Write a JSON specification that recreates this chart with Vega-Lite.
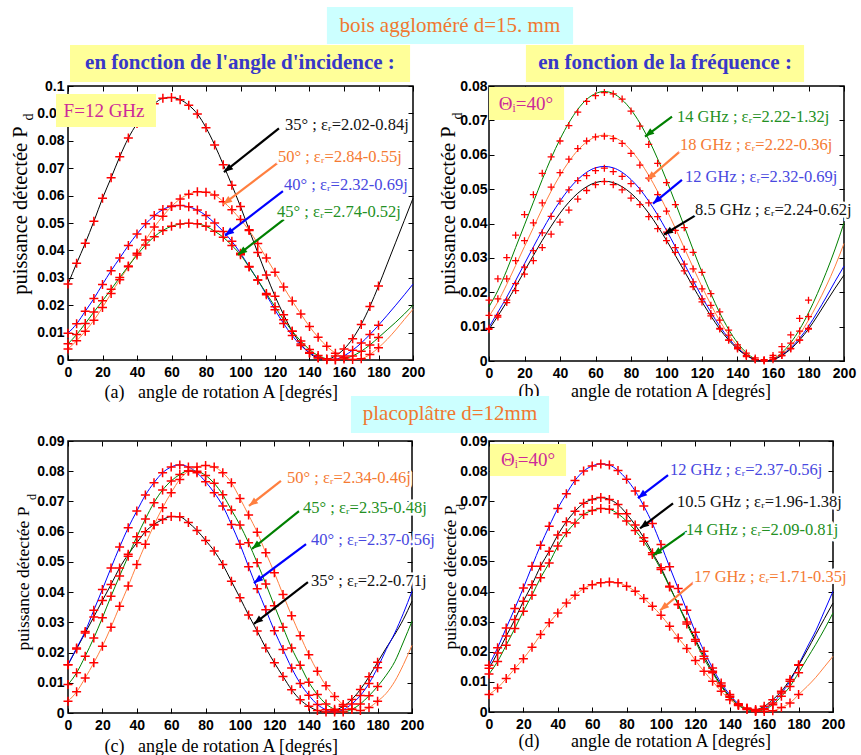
{
"$schema":"https://vega.github.io/schema/vega-lite/v6.json",
"padding":{"left":9,"top":6,"right":2,"bottom":2},
"background":"white",
"columns":2,
"spacing":{"row":80,"column":76},
"bounds":"flush",
"datasets":{
"a":[
{"s":"k","A":0,"L":0.0277},{"s":"k","A":5,"L":0.0353},{"s":"k","A":10,"L":0.0426},{"s":"k","A":15,"L":0.0506},{"s":"k","A":20,"L":0.059},{"s":"k","A":25,"L":0.0665},{"s":"k","A":30,"L":0.0742},{"s":"k","A":35,"L":0.081},{"s":"k","A":40,"L":0.0863},{"s":"k","A":45,"L":0.0905},{"s":"k","A":50,"L":0.0935},{"s":"k","A":55,"L":0.0955},{"s":"k","A":60,"L":0.0958},{"s":"k","A":65,"L":0.095},{"s":"k","A":70,"L":0.093},{"s":"k","A":75,"L":0.0898},{"s":"k","A":80,"L":0.0848},{"s":"k","A":85,"L":0.0785},{"s":"k","A":90,"L":0.0713},{"s":"k","A":95,"L":0.0638},{"s":"k","A":100,"L":0.056},{"s":"k","A":105,"L":0.0475},{"s":"k","A":110,"L":0.0392},{"s":"k","A":115,"L":0.031},{"s":"k","A":120,"L":0.0233},{"s":"k","A":125,"L":0.0165},{"s":"k","A":130,"L":0.0105},{"s":"k","A":135,"L":0.0058},{"s":"k","A":140,"L":0.0025},{"s":"k","A":145,"L":0.0007},{"s":"k","A":150,"L":0.0003},{"s":"k","A":155,"L":0.0015},{"s":"k","A":160,"L":0.004},{"s":"k","A":165,"L":0.0078},{"s":"k","A":170,"L":0.013},{"s":"k","A":175,"L":0.0195},{"s":"k","A":180,"L":0.027},{"s":"k","A":185,"L":0.035},{"s":"k","A":190,"L":0.043},{"s":"k","A":195,"L":0.051},{"s":"k","A":200,"L":0.059},
{"s":"o","A":0,"L":0.004},{"s":"o","A":5,"L":0.007},{"s":"o","A":10,"L":0.0105},{"s":"o","A":15,"L":0.0145},{"s":"o","A":20,"L":0.0192},{"s":"o","A":25,"L":0.0243},{"s":"o","A":30,"L":0.0293},{"s":"o","A":35,"L":0.034},{"s":"o","A":40,"L":0.039},{"s":"o","A":45,"L":0.0438},{"s":"o","A":50,"L":0.0485},{"s":"o","A":55,"L":0.0525},{"s":"o","A":60,"L":0.056},{"s":"o","A":65,"L":0.0588},{"s":"o","A":70,"L":0.0605},{"s":"o","A":75,"L":0.0614},{"s":"o","A":80,"L":0.0612},{"s":"o","A":85,"L":0.0602},{"s":"o","A":90,"L":0.0578},{"s":"o","A":95,"L":0.0548},{"s":"o","A":100,"L":0.0513},{"s":"o","A":105,"L":0.0473},{"s":"o","A":110,"L":0.0425},{"s":"o","A":115,"L":0.0372},{"s":"o","A":120,"L":0.032},{"s":"o","A":125,"L":0.0266},{"s":"o","A":130,"L":0.0215},{"s":"o","A":135,"L":0.0168},{"s":"o","A":140,"L":0.0122},{"s":"o","A":145,"L":0.0083},{"s":"o","A":150,"L":0.005},{"s":"o","A":155,"L":0.0025},{"s":"o","A":160,"L":0.0009},{"s":"o","A":165,"L":0.0002},{"s":"o","A":170,"L":0.0005},{"s":"o","A":175,"L":0.002},{"s":"o","A":180,"L":0.0045},{"s":"o","A":185,"L":0.0075},{"s":"o","A":190,"L":0.011},{"s":"o","A":195,"L":0.0148},{"s":"o","A":200,"L":0.0185},
{"s":"b","A":0,"L":0.0098},{"s":"b","A":5,"L":0.0132},{"s":"b","A":10,"L":0.0178},{"s":"b","A":15,"L":0.0224},{"s":"b","A":20,"L":0.0276},{"s":"b","A":25,"L":0.0326},{"s":"b","A":30,"L":0.0372},{"s":"b","A":35,"L":0.0418},{"s":"b","A":40,"L":0.046},{"s":"b","A":45,"L":0.0497},{"s":"b","A":50,"L":0.0527},{"s":"b","A":55,"L":0.0549},{"s":"b","A":60,"L":0.0561},{"s":"b","A":65,"L":0.0564},{"s":"b","A":70,"L":0.0559},{"s":"b","A":75,"L":0.0547},{"s":"b","A":80,"L":0.0527},{"s":"b","A":85,"L":0.05},{"s":"b","A":90,"L":0.0469},{"s":"b","A":95,"L":0.0433},{"s":"b","A":100,"L":0.039},{"s":"b","A":105,"L":0.0341},{"s":"b","A":110,"L":0.0292},{"s":"b","A":115,"L":0.0238},{"s":"b","A":120,"L":0.0183},{"s":"b","A":125,"L":0.0133},{"s":"b","A":130,"L":0.0089},{"s":"b","A":135,"L":0.0053},{"s":"b","A":140,"L":0.0027},{"s":"b","A":145,"L":0.0009},{"s":"b","A":150,"L":0.0001},{"s":"b","A":155,"L":0.0003},{"s":"b","A":160,"L":0.0015},{"s":"b","A":165,"L":0.0036},{"s":"b","A":170,"L":0.0062},{"s":"b","A":175,"L":0.0093},{"s":"b","A":180,"L":0.0127},{"s":"b","A":185,"L":0.0163},{"s":"b","A":190,"L":0.02},{"s":"b","A":195,"L":0.0238},{"s":"b","A":200,"L":0.0277},
{"s":"g","A":0,"L":0.0059},{"s":"g","A":5,"L":0.0093},{"s":"g","A":10,"L":0.0133},{"s":"g","A":15,"L":0.0175},{"s":"g","A":20,"L":0.0216},{"s":"g","A":25,"L":0.0258},{"s":"g","A":30,"L":0.0301},{"s":"g","A":35,"L":0.0343},{"s":"g","A":40,"L":0.0383},{"s":"g","A":45,"L":0.042},{"s":"g","A":50,"L":0.045},{"s":"g","A":55,"L":0.0473},{"s":"g","A":60,"L":0.0488},{"s":"g","A":65,"L":0.0496},{"s":"g","A":70,"L":0.0499},{"s":"g","A":75,"L":0.0497},{"s":"g","A":80,"L":0.0488},{"s":"g","A":85,"L":0.047},{"s":"g","A":90,"L":0.0448},{"s":"g","A":95,"L":0.0418},{"s":"g","A":100,"L":0.0384},{"s":"g","A":105,"L":0.0339},{"s":"g","A":110,"L":0.0292},{"s":"g","A":115,"L":0.0243},{"s":"g","A":120,"L":0.0194},{"s":"g","A":125,"L":0.0147},{"s":"g","A":130,"L":0.0105},{"s":"g","A":135,"L":0.0069},{"s":"g","A":140,"L":0.0038},{"s":"g","A":145,"L":0.0016},{"s":"g","A":150,"L":0.0004},{"s":"g","A":155,"L":0.0},{"s":"g","A":160,"L":0.0004},{"s":"g","A":165,"L":0.0015},{"s":"g","A":170,"L":0.0032},{"s":"g","A":175,"L":0.0055},{"s":"g","A":180,"L":0.0082},{"s":"g","A":185,"L":0.011},{"s":"g","A":190,"L":0.0138},{"s":"g","A":195,"L":0.0168},{"s":"g","A":200,"L":0.02}
],
"b":[
{"s":"g","A":0,"L":0.0158,"M":0.0177},{"s":"g","A":5,"L":0.0205,"M":0.0239},{"s":"g","A":10,"L":0.0264,"M":0.0301},{"s":"g","A":15,"L":0.033,"M":0.0366},{"s":"g","A":20,"L":0.0396,"M":0.0426},{"s":"g","A":25,"L":0.0462,"M":0.0484},{"s":"g","A":30,"L":0.0528,"M":0.0546},{"s":"g","A":35,"L":0.059,"M":0.0594},{"s":"g","A":40,"L":0.0645,"M":0.064},{"s":"g","A":45,"L":0.0693,"M":0.0685},{"s":"g","A":50,"L":0.0732,"M":0.0724},{"s":"g","A":55,"L":0.0761,"M":0.0755},{"s":"g","A":60,"L":0.0778,"M":0.0772},{"s":"g","A":65,"L":0.0784,"M":0.0781},{"s":"g","A":70,"L":0.0778,"M":0.0777},{"s":"g","A":75,"L":0.076,"M":0.0762},{"s":"g","A":80,"L":0.0731,"M":0.0727},{"s":"g","A":85,"L":0.0692,"M":0.0683},{"s":"g","A":90,"L":0.0644,"M":0.063},{"s":"g","A":95,"L":0.0588,"M":0.0575},{"s":"g","A":100,"L":0.0526,"M":0.0519},{"s":"g","A":105,"L":0.046,"M":0.0455},{"s":"g","A":110,"L":0.0392,"M":0.0388},{"s":"g","A":115,"L":0.0324,"M":0.0316},{"s":"g","A":120,"L":0.0258,"M":0.0258},{"s":"g","A":125,"L":0.0196,"M":0.0196},{"s":"g","A":130,"L":0.014,"M":0.0143},{"s":"g","A":135,"L":0.0092,"M":0.009},{"s":"g","A":140,"L":0.0053,"M":0.0047},{"s":"g","A":145,"L":0.0024,"M":0.0023},{"s":"g","A":150,"L":0.0006,"M":0.0009},{"s":"g","A":155,"L":0.0,"M":0.0004},{"s":"g","A":160,"L":0.0006,"M":0.0016},{"s":"g","A":165,"L":0.0024,"M":0.0042},{"s":"g","A":170,"L":0.0053,"M":0.0076},{"s":"g","A":175,"L":0.0092,"M":0.0124},{"s":"g","A":180,"L":0.014,"M":0.0177},{"s":"g","A":185,"L":0.0196},{"s":"g","A":190,"L":0.0258},{"s":"g","A":195,"L":0.0326},{"s":"g","A":200,"L":0.0402},
{"s":"o","A":0,"L":0.013,"M":0.0133},{"s":"o","A":5,"L":0.0172,"M":0.0181},{"s":"o","A":10,"L":0.0223,"M":0.0239},{"s":"o","A":15,"L":0.0278,"M":0.0292},{"s":"o","A":20,"L":0.0333,"M":0.035},{"s":"o","A":25,"L":0.0388,"M":0.0402},{"s":"o","A":30,"L":0.0443,"M":0.046},{"s":"o","A":35,"L":0.0494,"M":0.0506},{"s":"o","A":40,"L":0.054,"M":0.0548},{"s":"o","A":45,"L":0.058,"M":0.0587},{"s":"o","A":50,"L":0.0613,"M":0.0618},{"s":"o","A":55,"L":0.0637,"M":0.064},{"s":"o","A":60,"L":0.0652,"M":0.0652},{"s":"o","A":65,"L":0.0657,"M":0.0654},{"s":"o","A":70,"L":0.0652,"M":0.0647},{"s":"o","A":75,"L":0.0637,"M":0.0633},{"s":"o","A":80,"L":0.0613,"M":0.0604},{"s":"o","A":85,"L":0.058,"M":0.057},{"s":"o","A":90,"L":0.054,"M":0.0532},{"s":"o","A":95,"L":0.0493,"M":0.0484},{"s":"o","A":100,"L":0.0441,"M":0.0436},{"s":"o","A":105,"L":0.0386,"M":0.038},{"s":"o","A":110,"L":0.0329,"M":0.0325},{"s":"o","A":115,"L":0.0272,"M":0.0268},{"s":"o","A":120,"L":0.0216,"M":0.021},{"s":"o","A":125,"L":0.0164,"M":0.0162},{"s":"o","A":130,"L":0.0117,"M":0.0119},{"s":"o","A":135,"L":0.0077,"M":0.0075},{"s":"o","A":140,"L":0.0044,"M":0.004},{"s":"o","A":145,"L":0.002,"M":0.0015},{"s":"o","A":150,"L":0.0005,"M":0.0005},{"s":"o","A":155,"L":0.0,"M":0.0002},{"s":"o","A":160,"L":0.0005,"M":0.001},{"s":"o","A":165,"L":0.002,"M":0.0026},{"s":"o","A":170,"L":0.0044,"M":0.0052},{"s":"o","A":175,"L":0.0077,"M":0.0087},{"s":"o","A":180,"L":0.0119,"M":0.0129},{"s":"o","A":185,"L":0.0166},{"s":"o","A":190,"L":0.0218},{"s":"o","A":195,"L":0.0276},{"s":"o","A":200,"L":0.0342},
{"s":"b","A":0,"L":0.0098,"M":0.0095},{"s":"b","A":5,"L":0.0142,"M":0.0133},{"s":"b","A":10,"L":0.0186,"M":0.0177},{"s":"b","A":15,"L":0.0234,"M":0.0225},{"s":"b","A":20,"L":0.0283,"M":0.0273},{"s":"b","A":25,"L":0.0332,"M":0.0321},{"s":"b","A":30,"L":0.038,"M":0.0373},{"s":"b","A":35,"L":0.0425,"M":0.0421},{"s":"b","A":40,"L":0.0465,"M":0.0465},{"s":"b","A":45,"L":0.05,"M":0.0498},{"s":"b","A":50,"L":0.0528,"M":0.0525},{"s":"b","A":55,"L":0.0549,"M":0.0539},{"s":"b","A":60,"L":0.0562,"M":0.0554},{"s":"b","A":65,"L":0.0566,"M":0.0561},{"s":"b","A":70,"L":0.0562,"M":0.0551},{"s":"b","A":75,"L":0.0549,"M":0.0537},{"s":"b","A":80,"L":0.0528,"M":0.0516},{"s":"b","A":85,"L":0.05,"M":0.0495},{"s":"b","A":90,"L":0.0465,"M":0.046},{"s":"b","A":95,"L":0.0425,"M":0.042},{"s":"b","A":100,"L":0.038,"M":0.0375},{"s":"b","A":105,"L":0.0332,"M":0.033},{"s":"b","A":110,"L":0.0283,"M":0.0282},{"s":"b","A":115,"L":0.0234,"M":0.023},{"s":"b","A":120,"L":0.0186,"M":0.0181},{"s":"b","A":125,"L":0.0142,"M":0.0138},{"s":"b","A":130,"L":0.0101,"M":0.0095},{"s":"b","A":135,"L":0.0066,"M":0.0061},{"s":"b","A":140,"L":0.0038,"M":0.0037},{"s":"b","A":145,"L":0.0017,"M":0.0013},{"s":"b","A":150,"L":0.0004,"M":0.0004},{"s":"b","A":155,"L":0.0,"M":0.0002},{"s":"b","A":160,"L":0.0004,"M":0.0009},{"s":"b","A":165,"L":0.0017,"M":0.0016},{"s":"b","A":170,"L":0.0038,"M":0.0037},{"s":"b","A":175,"L":0.0066,"M":0.0061},{"s":"b","A":180,"L":0.0101,"M":0.0095},{"s":"b","A":185,"L":0.0142},{"s":"b","A":190,"L":0.0186},{"s":"b","A":195,"L":0.0232},{"s":"b","A":200,"L":0.0276},
{"s":"k","A":0,"L":0.0092,"M":0.0092},{"s":"k","A":5,"L":0.0131,"M":0.0128},{"s":"k","A":10,"L":0.0172,"M":0.017},{"s":"k","A":15,"L":0.0216,"M":0.0205},{"s":"k","A":20,"L":0.0262,"M":0.0253},{"s":"k","A":25,"L":0.0307,"M":0.0292},{"s":"k","A":30,"L":0.0351,"M":0.033},{"s":"k","A":35,"L":0.0392,"M":0.0369},{"s":"k","A":40,"L":0.043,"M":0.0404},{"s":"k","A":45,"L":0.0462,"M":0.0439},{"s":"k","A":50,"L":0.0488,"M":0.0471},{"s":"k","A":55,"L":0.0507,"M":0.0496},{"s":"k","A":60,"L":0.0519,"M":0.0513},{"s":"k","A":65,"L":0.0523,"M":0.0522},{"s":"k","A":70,"L":0.0519,"M":0.0513},{"s":"k","A":75,"L":0.0507,"M":0.0498},{"s":"k","A":80,"L":0.0488,"M":0.0474},{"s":"k","A":85,"L":0.0462,"M":0.0455},{"s":"k","A":90,"L":0.043,"M":0.042},{"s":"k","A":95,"L":0.0392,"M":0.0385},{"s":"k","A":100,"L":0.0351,"M":0.035},{"s":"k","A":105,"L":0.0307,"M":0.0316},{"s":"k","A":110,"L":0.0262,"M":0.0262},{"s":"k","A":115,"L":0.0216,"M":0.0216},{"s":"k","A":120,"L":0.0172,"M":0.0172},{"s":"k","A":125,"L":0.0131,"M":0.0131},{"s":"k","A":130,"L":0.0093,"M":0.0093},{"s":"k","A":135,"L":0.0061,"M":0.0061},{"s":"k","A":140,"L":0.0035,"M":0.0035},{"s":"k","A":145,"L":0.0016,"M":0.0016},{"s":"k","A":150,"L":0.0004,"M":0.0004},{"s":"k","A":155,"L":0.0,"M":0.0},{"s":"k","A":160,"L":0.0004,"M":0.0004},{"s":"k","A":165,"L":0.0016,"M":0.0016},{"s":"k","A":170,"L":0.0035,"M":0.0035},{"s":"k","A":175,"L":0.0061,"M":0.0061},{"s":"k","A":180,"L":0.0093,"M":0.0093},{"s":"k","A":185,"L":0.0131},{"s":"k","A":190,"L":0.0172},{"s":"k","A":195,"L":0.0212},{"s":"k","A":200,"L":0.025}
],
"c":[
{"s":"k","A":0,"L":0.016},{"s":"k","A":5,"L":0.0212},{"s":"k","A":10,"L":0.0265},{"s":"k","A":15,"L":0.0318},{"s":"k","A":20,"L":0.0372},{"s":"k","A":25,"L":0.0425},{"s":"k","A":30,"L":0.048},{"s":"k","A":35,"L":0.0525},{"s":"k","A":40,"L":0.0563},{"s":"k","A":45,"L":0.06},{"s":"k","A":50,"L":0.0624},{"s":"k","A":55,"L":0.064},{"s":"k","A":60,"L":0.065},{"s":"k","A":65,"L":0.0649},{"s":"k","A":70,"L":0.063},{"s":"k","A":75,"L":0.0604},{"s":"k","A":80,"L":0.0571},{"s":"k","A":85,"L":0.0536},{"s":"k","A":90,"L":0.0491},{"s":"k","A":95,"L":0.0436},{"s":"k","A":100,"L":0.0381},{"s":"k","A":105,"L":0.0324},{"s":"k","A":110,"L":0.0271},{"s":"k","A":115,"L":0.0215},{"s":"k","A":120,"L":0.0166},{"s":"k","A":125,"L":0.0121},{"s":"k","A":130,"L":0.0077},{"s":"k","A":135,"L":0.0044},{"s":"k","A":140,"L":0.0022},{"s":"k","A":145,"L":0.0008},{"s":"k","A":150,"L":0.0003},{"s":"k","A":155,"L":0.0008},{"s":"k","A":160,"L":0.0022},{"s":"k","A":165,"L":0.0045},{"s":"k","A":170,"L":0.0078},{"s":"k","A":175,"L":0.012},{"s":"k","A":180,"L":0.0168},{"s":"k","A":185,"L":0.0215},{"s":"k","A":190,"L":0.026},{"s":"k","A":195,"L":0.031},{"s":"k","A":200,"L":0.037},
{"s":"b","A":0,"L":0.016},{"s":"b","A":5,"L":0.0215},{"s":"b","A":10,"L":0.027},{"s":"b","A":15,"L":0.034},{"s":"b","A":20,"L":0.0409},{"s":"b","A":25,"L":0.048},{"s":"b","A":30,"L":0.0549},{"s":"b","A":35,"L":0.0613},{"s":"b","A":40,"L":0.0668},{"s":"b","A":45,"L":0.0721},{"s":"b","A":50,"L":0.0762},{"s":"b","A":55,"L":0.0795},{"s":"b","A":60,"L":0.0814},{"s":"b","A":65,"L":0.0821},{"s":"b","A":70,"L":0.0814},{"s":"b","A":75,"L":0.0795},{"s":"b","A":80,"L":0.0765},{"s":"b","A":85,"L":0.0729},{"s":"b","A":90,"L":0.0685},{"s":"b","A":95,"L":0.0624},{"s":"b","A":100,"L":0.0558},{"s":"b","A":105,"L":0.0484},{"s":"b","A":110,"L":0.0411},{"s":"b","A":115,"L":0.0342},{"s":"b","A":120,"L":0.0272},{"s":"b","A":125,"L":0.021},{"s":"b","A":130,"L":0.0149},{"s":"b","A":135,"L":0.0098},{"s":"b","A":140,"L":0.0059},{"s":"b","A":145,"L":0.0028},{"s":"b","A":150,"L":0.0011},{"s":"b","A":155,"L":0.0003},{"s":"b","A":160,"L":0.0011},{"s":"b","A":165,"L":0.003},{"s":"b","A":170,"L":0.0058},{"s":"b","A":175,"L":0.0098},{"s":"b","A":180,"L":0.015},{"s":"b","A":185,"L":0.021},{"s":"b","A":190,"L":0.0265},{"s":"b","A":195,"L":0.033},{"s":"b","A":200,"L":0.0403},
{"s":"g","A":0,"L":0.0094},{"s":"g","A":5,"L":0.0133},{"s":"g","A":10,"L":0.0188},{"s":"g","A":15,"L":0.0248},{"s":"g","A":20,"L":0.0315},{"s":"g","A":25,"L":0.0386},{"s":"g","A":30,"L":0.0453},{"s":"g","A":35,"L":0.0519},{"s":"g","A":40,"L":0.0583},{"s":"g","A":45,"L":0.0642},{"s":"g","A":50,"L":0.0696},{"s":"g","A":55,"L":0.0738},{"s":"g","A":60,"L":0.0768},{"s":"g","A":65,"L":0.0789},{"s":"g","A":70,"L":0.0801},{"s":"g","A":75,"L":0.08},{"s":"g","A":80,"L":0.0786},{"s":"g","A":85,"L":0.076},{"s":"g","A":90,"L":0.0722},{"s":"g","A":95,"L":0.0672},{"s":"g","A":100,"L":0.0622},{"s":"g","A":105,"L":0.0563},{"s":"g","A":110,"L":0.0497},{"s":"g","A":115,"L":0.0427},{"s":"g","A":120,"L":0.0355},{"s":"g","A":125,"L":0.0284},{"s":"g","A":130,"L":0.0215},{"s":"g","A":135,"L":0.0158},{"s":"g","A":140,"L":0.0102},{"s":"g","A":145,"L":0.0061},{"s":"g","A":150,"L":0.003},{"s":"g","A":155,"L":0.0012},{"s":"g","A":160,"L":0.0003},{"s":"g","A":165,"L":0.0012},{"s":"g","A":170,"L":0.003},{"s":"g","A":175,"L":0.0057},{"s":"g","A":180,"L":0.0088},{"s":"g","A":185,"L":0.0125},{"s":"g","A":190,"L":0.017},{"s":"g","A":195,"L":0.0235},{"s":"g","A":200,"L":0.0304},
{"s":"o","A":0,"L":0.0039},{"s":"o","A":5,"L":0.007},{"s":"o","A":10,"L":0.0116},{"s":"o","A":15,"L":0.0166},{"s":"o","A":20,"L":0.0221},{"s":"o","A":25,"L":0.0284},{"s":"o","A":30,"L":0.0353},{"s":"o","A":35,"L":0.042},{"s":"o","A":40,"L":0.0491},{"s":"o","A":45,"L":0.0558},{"s":"o","A":50,"L":0.0622},{"s":"o","A":55,"L":0.0679},{"s":"o","A":60,"L":0.0729},{"s":"o","A":65,"L":0.0773},{"s":"o","A":70,"L":0.0801},{"s":"o","A":75,"L":0.0814},{"s":"o","A":80,"L":0.0819},{"s":"o","A":85,"L":0.0814},{"s":"o","A":90,"L":0.0795},{"s":"o","A":95,"L":0.0762},{"s":"o","A":100,"L":0.071},{"s":"o","A":105,"L":0.0655},{"s":"o","A":110,"L":0.0598},{"s":"o","A":115,"L":0.053},{"s":"o","A":120,"L":0.0464},{"s":"o","A":125,"L":0.0392},{"s":"o","A":130,"L":0.0322},{"s":"o","A":135,"L":0.0256},{"s":"o","A":140,"L":0.0193},{"s":"o","A":145,"L":0.0138},{"s":"o","A":150,"L":0.009},{"s":"o","A":155,"L":0.0055},{"s":"o","A":160,"L":0.0028},{"s":"o","A":165,"L":0.0012},{"s":"o","A":170,"L":0.0008},{"s":"o","A":175,"L":0.0018},{"s":"o","A":180,"L":0.0039},{"s":"o","A":185,"L":0.0065},{"s":"o","A":190,"L":0.0105},{"s":"o","A":195,"L":0.016},{"s":"o","A":200,"L":0.0224}
],
"d":[
{"s":"b","A":0,"L":0.0155},{"s":"b","A":5,"L":0.0213},{"s":"b","A":10,"L":0.0279},{"s":"b","A":15,"L":0.0344},{"s":"b","A":20,"L":0.0412},{"s":"b","A":25,"L":0.0484},{"s":"b","A":30,"L":0.0554},{"s":"b","A":35,"L":0.0617},{"s":"b","A":40,"L":0.0676},{"s":"b","A":45,"L":0.0725},{"s":"b","A":50,"L":0.0769},{"s":"b","A":55,"L":0.08},{"s":"b","A":60,"L":0.0817},{"s":"b","A":65,"L":0.0824},{"s":"b","A":70,"L":0.082},{"s":"b","A":75,"L":0.0802},{"s":"b","A":80,"L":0.0773},{"s":"b","A":85,"L":0.0734},{"s":"b","A":90,"L":0.0684},{"s":"b","A":95,"L":0.0626},{"s":"b","A":100,"L":0.0556},{"s":"b","A":105,"L":0.0482},{"s":"b","A":110,"L":0.041},{"s":"b","A":115,"L":0.0338},{"s":"b","A":120,"L":0.0265},{"s":"b","A":125,"L":0.0202},{"s":"b","A":130,"L":0.0146},{"s":"b","A":135,"L":0.0096},{"s":"b","A":140,"L":0.0058},{"s":"b","A":145,"L":0.0027},{"s":"b","A":150,"L":0.0011},{"s":"b","A":155,"L":0.0004},{"s":"b","A":160,"L":0.0011},{"s":"b","A":165,"L":0.003},{"s":"b","A":170,"L":0.0063},{"s":"b","A":175,"L":0.0102},{"s":"b","A":180,"L":0.0157},{"s":"b","A":185,"L":0.0215},{"s":"b","A":190,"L":0.027},{"s":"b","A":195,"L":0.0335},{"s":"b","A":200,"L":0.0401},
{"s":"k","A":0,"L":0.0145},{"s":"k","A":5,"L":0.0196},{"s":"k","A":10,"L":0.0252},{"s":"k","A":15,"L":0.0307},{"s":"k","A":20,"L":0.0368},{"s":"k","A":25,"L":0.0423},{"s":"k","A":30,"L":0.0484},{"s":"k","A":35,"L":0.0534},{"s":"k","A":40,"L":0.0588},{"s":"k","A":45,"L":0.0632},{"s":"k","A":50,"L":0.0667},{"s":"k","A":55,"L":0.0693},{"s":"k","A":60,"L":0.0706},{"s":"k","A":65,"L":0.0712},{"s":"k","A":70,"L":0.0706},{"s":"k","A":75,"L":0.0689},{"s":"k","A":80,"L":0.0658},{"s":"k","A":85,"L":0.0621},{"s":"k","A":90,"L":0.0579},{"s":"k","A":95,"L":0.0529},{"s":"k","A":100,"L":0.0479},{"s":"k","A":105,"L":0.0418},{"s":"k","A":110,"L":0.0357},{"s":"k","A":115,"L":0.0299},{"s":"k","A":120,"L":0.0241},{"s":"k","A":125,"L":0.0185},{"s":"k","A":130,"L":0.0135},{"s":"k","A":135,"L":0.0089},{"s":"k","A":140,"L":0.0052},{"s":"k","A":145,"L":0.0024},{"s":"k","A":150,"L":0.0011},{"s":"k","A":155,"L":0.0008},{"s":"k","A":160,"L":0.0019},{"s":"k","A":165,"L":0.0041},{"s":"k","A":170,"L":0.0069},{"s":"k","A":175,"L":0.0108},{"s":"k","A":180,"L":0.0155},{"s":"k","A":185,"L":0.0205},{"s":"k","A":190,"L":0.0258},{"s":"k","A":195,"L":0.031},{"s":"k","A":200,"L":0.0362},
{"s":"g","A":0,"L":0.0126},{"s":"g","A":5,"L":0.0168},{"s":"g","A":10,"L":0.0222},{"s":"g","A":15,"L":0.0277},{"s":"g","A":20,"L":0.0335},{"s":"g","A":25,"L":0.0388},{"s":"g","A":30,"L":0.0446},{"s":"g","A":35,"L":0.0495},{"s":"g","A":40,"L":0.0551},{"s":"g","A":45,"L":0.0595},{"s":"g","A":50,"L":0.0628},{"s":"g","A":55,"L":0.0656},{"s":"g","A":60,"L":0.0669},{"s":"g","A":65,"L":0.0676},{"s":"g","A":70,"L":0.0673},{"s":"g","A":75,"L":0.0658},{"s":"g","A":80,"L":0.0634},{"s":"g","A":85,"L":0.0603},{"s":"g","A":90,"L":0.0567},{"s":"g","A":95,"L":0.0523},{"s":"g","A":100,"L":0.0473},{"s":"g","A":105,"L":0.0415},{"s":"g","A":110,"L":0.0357},{"s":"g","A":115,"L":0.0292},{"s":"g","A":120,"L":0.0235},{"s":"g","A":125,"L":0.0177},{"s":"g","A":130,"L":0.013},{"s":"g","A":135,"L":0.0085},{"s":"g","A":140,"L":0.0049},{"s":"g","A":145,"L":0.0022},{"s":"g","A":150,"L":0.0008},{"s":"g","A":155,"L":0.0002},{"s":"g","A":160,"L":0.0008},{"s":"g","A":165,"L":0.0024},{"s":"g","A":170,"L":0.0052},{"s":"g","A":175,"L":0.0085},{"s":"g","A":180,"L":0.013},{"s":"g","A":185,"L":0.0178},{"s":"g","A":190,"L":0.0225},{"s":"g","A":195,"L":0.0275},{"s":"g","A":200,"L":0.0329},
{"s":"o","A":0,"L":0.0058},{"s":"o","A":5,"L":0.008},{"s":"o","A":10,"L":0.0111},{"s":"o","A":15,"L":0.0144},{"s":"o","A":20,"L":0.0177},{"s":"o","A":25,"L":0.0215},{"s":"o","A":30,"L":0.0257},{"s":"o","A":35,"L":0.0296},{"s":"o","A":40,"L":0.0329},{"s":"o","A":45,"L":0.0362},{"s":"o","A":50,"L":0.0388},{"s":"o","A":55,"L":0.041},{"s":"o","A":60,"L":0.0423},{"s":"o","A":65,"L":0.0429},{"s":"o","A":70,"L":0.0432},{"s":"o","A":75,"L":0.0429},{"s":"o","A":80,"L":0.0418},{"s":"o","A":85,"L":0.0401},{"s":"o","A":90,"L":0.0377},{"s":"o","A":95,"L":0.0351},{"s":"o","A":100,"L":0.0321},{"s":"o","A":105,"L":0.0285},{"s":"o","A":110,"L":0.0246},{"s":"o","A":115,"L":0.0211},{"s":"o","A":120,"L":0.0171},{"s":"o","A":125,"L":0.0135},{"s":"o","A":130,"L":0.0102},{"s":"o","A":135,"L":0.0069},{"s":"o","A":140,"L":0.0041},{"s":"o","A":145,"L":0.0024},{"s":"o","A":150,"L":0.0013},{"s":"o","A":155,"L":0.0004},{"s":"o","A":160,"L":0.0002},{"s":"o","A":165,"L":0.0004},{"s":"o","A":170,"L":0.0015},{"s":"o","A":175,"L":0.003},{"s":"o","A":180,"L":0.0058},{"s":"o","A":185,"L":0.0085},{"s":"o","A":190,"L":0.0115},{"s":"o","A":195,"L":0.015},{"s":"o","A":200,"L":0.0185}
],
"an_a":[
{"s":"k","t":"35° ; εᵣ=2.02-0.84j","tx":125.8,"ty":0.0856,"x1":122.3,"y1":0.0845,"x2":90.4,"y2":0.0686,"ang":232},
{"s":"o","t":"50° ; εᵣ=2.84-0.55j","tx":121.7,"ty":0.0742,"x1":122.3,"y1":0.0723,"x2":89.9,"y2":0.0568,"ang":233},
{"s":"b","t":"40° ; εᵣ=2.32-0.69j","tx":125.2,"ty":0.0638,"x1":124.6,"y1":0.0616,"x2":91.0,"y2":0.0454,"ang":233},
{"s":"g","t":"45° ; εᵣ=2.74-0.52j","tx":121.2,"ty":0.0539,"x1":125.2,"y1":0.0513,"x2":98.6,"y2":0.0384,"ang":233}
],
"an_b":[
{"s":"g","t":"14 GHz ; εᵣ=2.22-1.32j","tx":105.9,"ty":0.0711,"x1":103.1,"y1":0.0711,"x2":87.9,"y2":0.0653,"ang":233},
{"s":"o","t":"18 GHz ; εᵣ=2.22-0.36j","tx":107.6,"ty":0.0627,"x1":107.6,"y1":0.061,"x2":89.0,"y2":0.0527,"ang":229},
{"s":"b","t":"12 GHz ; εᵣ=2.32-0.69j","tx":110.4,"ty":0.0535,"x1":108.7,"y1":0.0527,"x2":92.4,"y2":0.0458,"ang":230},
{"s":"k","t":"8.5 GHz ; εᵣ=2.24-0.62j","tx":116.1,"ty":0.044,"x1":116.1,"y1":0.0423,"x2":98.6,"y2":0.0368,"ang":238}
],
"an_c":[
{"s":"o","t":"50° ; εᵣ=2.34-0.46j","tx":127.3,"ty":0.0778,"x1":123.8,"y1":0.0768,"x2":105.2,"y2":0.0685,"ang":232},
{"s":"g","t":"45° ; εᵣ=2.35-0.48j","tx":136.6,"ty":0.0678,"x1":134.3,"y1":0.0668,"x2":107.0,"y2":0.0543,"ang":231},
{"s":"b","t":"40° ; εᵣ=2.37-0.56j","tx":141.3,"ty":0.0572,"x1":138.4,"y1":0.0559,"x2":108.1,"y2":0.043,"ang":233},
{"s":"k","t":"35° ; εᵣ=2.2-0.71j","tx":141.3,"ty":0.0437,"x1":139.5,"y1":0.0433,"x2":108.1,"y2":0.0295,"ang":232}
],
"an_d":[
{"s":"b","t":"12 GHz ; εᵣ=2.37-0.56j","tx":105.2,"ty":0.0803,"x1":104.1,"y1":0.0787,"x2":86.6,"y2":0.071,"ang":232},
{"s":"k","t":"10.5 GHz ; εᵣ=1.96-1.38j","tx":109.3,"ty":0.0697,"x1":107.0,"y1":0.0693,"x2":87.8,"y2":0.061,"ang":233},
{"s":"g","t":"14 GHz ; εᵣ=2.09-0.81j","tx":114.5,"ty":0.0603,"x1":115.1,"y1":0.06,"x2":95.3,"y2":0.052,"ang":235},
{"s":"o","t":"17 GHz ; εᵣ=1.71-0.35j","tx":119.2,"ty":0.0447,"x1":121.5,"y1":0.0443,"x2":99.4,"y2":0.0337,"ang":230}
]
},
"concat":[
{
"width":345,"height":274,
"resolve":{"axis":{"x":"independent","y":"independent"}},
"layer":[
{"data":{"name":"a"},"mark":{"type":"line","strokeWidth":1,"interpolate":"monotone"},
"encoding":{
"x":{"field":"A","type":"quantitative","scale":{"domain":[0,200],"nice":false},"axis":{"orient":"bottom","values":[0,20,40,60,80,100,120,140,160,180,200],"labelPadding":10,"title":"(a)\u00a0\u00a0\u00a0angle de rotation A [degrés]","titleFontSize":18,"titleAlign":"left","titleBaseline":"middle","titleX":36,"titleY":32}},
"y":{"field":"L","type":"quantitative","scale":{"domain":[0,0.1],"nice":false},"axis":{"orient":"left","values":[0,0.01,0.02,0.03,0.04,0.05,0.06,0.07,0.08,0.09,0.1],"format":".2~f","labelPadding":9,"title":"puissance détectée P","titleFontSize":20.5,"titleAngle":270,"titleBaseline":"alphabetic","titleAlign":"center","titleX":-42,"titleY":124}},
"stroke":{"field":"s","type":"nominal","scale":{"domain":["k","b","g","o"],"range":["#000000","#0000ff","#008000","#ff7f3f"]},"legend":null}}},
{"data":{"name":"a"},"transform":[{"filter":"datum.A <= 180"}],"mark":{"type":"point","shape":"M-1,0L1,0M0,-1L0,1","filled":false,"stroke":"#ff0000","strokeWidth":1.5,"size":81,"opacity":1},
"encoding":{
"x":{"field":"A","type":"quantitative","scale":{"domain":[0,200],"nice":false},"axis":{"orient":"top","values":[0,20,40,60,80,100,120,140,160,180,200],"labels":false,"title":null}},
"y":{"field":"L","type":"quantitative","scale":{"domain":[0,0.1],"nice":false},"axis":{"orient":"right","values":[0,0.01,0.02,0.03,0.04,0.05,0.06,0.07,0.08,0.09,0.1],"labels":false,"title":null}}}},
{"data":{"name":"an_a"},"mark":{"type":"rule","strokeWidth":2.2},
"encoding":{"x":{"field":"x1","type":"quantitative","scale":{"domain":[0,200],"nice":false},"axis":null},"y":{"field":"y1","type":"quantitative","scale":{"domain":[0,0.1],"nice":false},"axis":null},"x2":{"field":"x2"},"y2":{"field":"y2"},"stroke":{"field":"s","type":"nominal","legend":null}}},
{"data":{"name":"an_a"},"mark":{"type":"point","shape":"M0,0L1,2.6L-1,2.6Z","filled":true,"size":49,"opacity":1,"strokeWidth":0},
"encoding":{"x":{"field":"x2","type":"quantitative","scale":{"domain":[0,200],"nice":false},"axis":null},"y":{"field":"y2","type":"quantitative","scale":{"domain":[0,0.1],"nice":false},"axis":null},"angle":{"field":"ang","type":"quantitative","scale":null},"fill":{"field":"s","type":"nominal","scale":{"domain":["k","b","g","o"],"range":["#000000","#0000ff","#008000","#ff7f3f"]},"legend":null}}},
{"data":{"name":"an_a"},"mark":{"type":"text","font":"Liberation Serif","fontSize":16.5,"align":"left","baseline":"middle","stroke":"white","strokeWidth":5,"fill":"white"},
"encoding":{"x":{"field":"tx","type":"quantitative","scale":{"domain":[0,200],"nice":false},"axis":null},"y":{"field":"ty","type":"quantitative","scale":{"domain":[0,0.1],"nice":false},"axis":null},"text":{"field":"t"}}},
{"data":{"name":"an_a"},"mark":{"type":"text","font":"Liberation Serif","fontSize":16.5,"align":"left","baseline":"middle"},
"encoding":{"x":{"field":"tx","type":"quantitative","scale":{"domain":[0,200],"nice":false},"axis":null},"y":{"field":"ty","type":"quantitative","scale":{"domain":[0,0.1],"nice":false},"axis":null},"text":{"field":"t"},"color":{"field":"s","type":"nominal","scale":{"domain":["k","b","g","o"],"range":["#111111","#4848e0","#239023","#f57a32"]},"legend":null}}},
{"data":{"values":[{"x":150.1,"x2":292.8,"y":0.11533,"y2":0.12883}]},"mark":{"type":"rect","fill":"#ccffff"},
"encoding":{"x":{"field":"x","type":"quantitative","scale":{"domain":[0,200],"nice":false},"axis":null},"x2":{"field":"x2"},"y":{"field":"y","type":"quantitative","scale":{"domain":[0,0.1],"nice":false},"axis":null},"y2":{"field":"y2"}}},
{"data":{"values":[{"x":1.16,"x2":198.3,"y":0.10146,"y2":0.11496},{"x":-6.96,"x2":51.0,"y":0.08504,"y2":0.09708}]},"mark":{"type":"rect","fill":"#ffff99"},
"encoding":{"x":{"field":"x","type":"quantitative","scale":{"domain":[0,200],"nice":false},"axis":null},"x2":{"field":"x2"},"y":{"field":"y","type":"quantitative","scale":{"domain":[0,0.1],"nice":false},"axis":null},"y2":{"field":"y2"}}},
{"data":{"values":[{"x":221.4,"y":0.1219,"t":"bois aggloméré d=15. mm"}]},"mark":{"type":"text","font":"Liberation Serif","fontSize":21,"color":"#f07830","align":"center","baseline":"middle"},
"encoding":{"x":{"field":"x","type":"quantitative","scale":{"domain":[0,200],"nice":false},"axis":null},"y":{"field":"y","type":"quantitative","scale":{"domain":[0,0.1],"nice":false},"axis":null},"text":{"field":"t"}}},
{"data":{"values":[{"x":99.7,"y":0.10839,"t":"en fonction de l'angle d'incidence :"}]},"mark":{"type":"text","font":"Liberation Serif","fontSize":21,"fontWeight":"bold","color":"#3838c8","align":"center","baseline":"middle"},
"encoding":{"x":{"field":"x","type":"quantitative","scale":{"domain":[0,200],"nice":false},"axis":null},"y":{"field":"y","type":"quantitative","scale":{"domain":[0,0.1],"nice":false},"axis":null},"text":{"field":"t"}}},
{"data":{"values":[{"x":20.9,"y":0.09088,"t":"F=12 GHz"}]},"mark":{"type":"text","font":"Liberation Serif","fontSize":19,"color":"#cc2a99","align":"center","baseline":"middle"},
"encoding":{"x":{"field":"x","type":"quantitative","scale":{"domain":[0,200],"nice":false},"axis":null},"y":{"field":"y","type":"quantitative","scale":{"domain":[0,0.1],"nice":false},"axis":null},"text":{"field":"t"}}},
{"data":{"values":[{"x":-22.6,"y":0.0887,"t":"d"}]},"mark":{"type":"text","font":"Liberation Serif","fontSize":14,"angle":270,"color":"black","align":"center","baseline":"middle"},
"encoding":{"x":{"field":"x","type":"quantitative","scale":{"domain":[0,200],"nice":false},"axis":null},"y":{"field":"y","type":"quantitative","scale":{"domain":[0,0.1],"nice":false},"axis":null},"text":{"field":"t"}}}
]
},
{
"width":355,"height":275,
"resolve":{"axis":{"x":"independent","y":"independent"}},
"layer":[
{"data":{"name":"b"},"mark":{"type":"line","strokeWidth":1,"interpolate":"monotone"},
"encoding":{
"x":{"field":"A","type":"quantitative","scale":{"domain":[0,200],"nice":false},"axis":{"orient":"bottom","values":[0,20,40,60,80,100,120,140,160,180,200],"labelPadding":10,"title":"(b)\u00a0\u00a0\u00a0\u00a0\u00a0\u00a0\u00a0angle de rotation A [degrés]","titleFontSize":18,"titleAlign":"left","titleBaseline":"middle","titleX":29,"titleY":30}},
"y":{"field":"L","type":"quantitative","scale":{"domain":[0,0.08],"nice":false},"axis":{"orient":"left","values":[0,0.01,0.02,0.03,0.04,0.05,0.06,0.07,0.08],"format":".2~f","labelPadding":7,"title":"puissance détectée P","titleFontSize":20.5,"titleAngle":270,"titleBaseline":"alphabetic","titleAlign":"center","titleX":-35,"titleY":124}},
"stroke":{"field":"s","type":"nominal","scale":{"domain":["k","b","g","o"],"range":["#000000","#0000ff","#008000","#ff7f3f"]},"legend":null}}},
{"data":{"name":"b"},"transform":[{"filter":"isValid(datum.M)"}],"mark":{"type":"point","shape":"M-1,0L1,0M0,-1L0,1","filled":false,"stroke":"#ff0000","strokeWidth":1.3,"size":49,"opacity":1},
"encoding":{
"x":{"field":"A","type":"quantitative","scale":{"domain":[0,200],"nice":false},"axis":{"orient":"top","values":[0,20,40,60,80,100,120,140,160,180,200],"labels":false,"title":null}},
"y":{"field":"M","type":"quantitative","scale":{"domain":[0,0.08],"nice":false},"axis":{"orient":"right","values":[0,0.01,0.02,0.03,0.04,0.05,0.06,0.07,0.08],"labels":false,"title":null}}}},
{"data":{"name":"an_b"},"mark":{"type":"rule","strokeWidth":2.2},
"encoding":{"x":{"field":"x1","type":"quantitative","scale":{"domain":[0,200],"nice":false},"axis":null},"y":{"field":"y1","type":"quantitative","scale":{"domain":[0,0.08],"nice":false},"axis":null},"x2":{"field":"x2"},"y2":{"field":"y2"},"stroke":{"field":"s","type":"nominal","legend":null}}},
{"data":{"name":"an_b"},"mark":{"type":"point","shape":"M0,0L1,2.6L-1,2.6Z","filled":true,"size":49,"opacity":1,"strokeWidth":0},
"encoding":{"x":{"field":"x2","type":"quantitative","scale":{"domain":[0,200],"nice":false},"axis":null},"y":{"field":"y2","type":"quantitative","scale":{"domain":[0,0.08],"nice":false},"axis":null},"angle":{"field":"ang","type":"quantitative","scale":null},"fill":{"field":"s","type":"nominal","scale":{"domain":["k","b","g","o"],"range":["#000000","#0000ff","#008000","#ff7f3f"]},"legend":null}}},
{"data":{"name":"an_b"},"mark":{"type":"text","font":"Liberation Serif","fontSize":16.5,"align":"left","baseline":"middle","stroke":"white","strokeWidth":5,"fill":"white"},
"encoding":{"x":{"field":"tx","type":"quantitative","scale":{"domain":[0,200],"nice":false},"axis":null},"y":{"field":"ty","type":"quantitative","scale":{"domain":[0,0.08],"nice":false},"axis":null},"text":{"field":"t"}}},
{"data":{"name":"an_b"},"mark":{"type":"text","font":"Liberation Serif","fontSize":16.5,"align":"left","baseline":"middle"},
"encoding":{"x":{"field":"tx","type":"quantitative","scale":{"domain":[0,200],"nice":false},"axis":null},"y":{"field":"ty","type":"quantitative","scale":{"domain":[0,0.08],"nice":false},"axis":null},"text":{"field":"t"},"color":{"field":"s","type":"nominal","scale":{"domain":["k","b","g","o"],"range":["#111111","#4848e0","#239023","#f57a32"]},"legend":null}}},
{"data":{"values":[{"x":20.8,"x2":177.5,"y":0.08116,"y2":0.09193},{"x":0.0,"x2":42.3,"y":0.07011,"y2":0.07971}]},"mark":{"type":"rect","fill":"#ffff99"},
"encoding":{"x":{"field":"x","type":"quantitative","scale":{"domain":[0,200],"nice":false},"axis":null},"x2":{"field":"x2"},"y":{"field":"y","type":"quantitative","scale":{"domain":[0,0.08],"nice":false},"axis":null},"y2":{"field":"y2"}}},
{"data":{"values":[{"x":99.2,"y":0.08669,"t":"en fonction de la fréquence :"}]},"mark":{"type":"text","font":"Liberation Serif","fontSize":21,"fontWeight":"bold","color":"#3838c8","align":"center","baseline":"middle"},
"encoding":{"x":{"field":"x","type":"quantitative","scale":{"domain":[0,200],"nice":false},"axis":null},"y":{"field":"y","type":"quantitative","scale":{"domain":[0,0.08],"nice":false},"axis":null},"text":{"field":"t"}}},
{"data":{"values":[{"x":20.8,"y":0.07476,"t":"Θᵢ=40°"}]},"mark":{"type":"text","font":"Liberation Serif","fontSize":19,"color":"#cc2a99","align":"center","baseline":"middle"},
"encoding":{"x":{"field":"x","type":"quantitative","scale":{"domain":[0,200],"nice":false},"axis":null},"y":{"field":"y","type":"quantitative","scale":{"domain":[0,0.08],"nice":false},"axis":null},"text":{"field":"t"}}},
{"data":{"values":[{"x":-17.5,"y":0.0713,"t":"d"}]},"mark":{"type":"text","font":"Liberation Serif","fontSize":14,"angle":270,"color":"black","align":"center","baseline":"middle"},
"encoding":{"x":{"field":"x","type":"quantitative","scale":{"domain":[0,200],"nice":false},"axis":null},"y":{"field":"y","type":"quantitative","scale":{"domain":[0,0.08],"nice":false},"axis":null},"text":{"field":"t"}}}
]
},
{
"width":344,"height":272,
"resolve":{"axis":{"x":"independent","y":"independent"}},
"layer":[
{"data":{"name":"c"},"mark":{"type":"line","strokeWidth":1,"interpolate":"monotone"},
"encoding":{
"x":{"field":"A","type":"quantitative","scale":{"domain":[0,200],"nice":false},"axis":{"orient":"bottom","values":[0,20,40,60,80,100,120,140,160,180,200],"labelPadding":10,"title":"(c)\u00a0\u00a0\u00a0angle de rotation A [degrés]","titleFontSize":18,"titleAlign":"left","titleBaseline":"middle","titleX":36,"titleY":33}},
"y":{"field":"L","type":"quantitative","scale":{"domain":[0,0.09],"nice":false},"axis":{"orient":"left","values":[0,0.01,0.02,0.03,0.04,0.05,0.06,0.07,0.08,0.09],"format":".2~f","labelPadding":9,"title":"puissance détectée P","titleFontSize":17.5,"titleAngle":270,"titleBaseline":"alphabetic","titleAlign":"center","titleX":-40,"titleY":137}},
"stroke":{"field":"s","type":"nominal","scale":{"domain":["k","b","g","o"],"range":["#000000","#0000ff","#008000","#ff7f3f"]},"legend":null}}},
{"data":{"name":"c"},"transform":[{"filter":"datum.A <= 180"}],"mark":{"type":"point","shape":"M-1,0L1,0M0,-1L0,1","filled":false,"stroke":"#ff0000","strokeWidth":1.5,"size":81,"opacity":1},
"encoding":{
"x":{"field":"A","type":"quantitative","scale":{"domain":[0,200],"nice":false},"axis":{"orient":"top","values":[0,20,40,60,80,100,120,140,160,180,200],"labels":false,"title":null}},
"y":{"field":"L","type":"quantitative","scale":{"domain":[0,0.09],"nice":false},"axis":{"orient":"right","values":[0,0.01,0.02,0.03,0.04,0.05,0.06,0.07,0.08,0.09],"labels":false,"title":null}}}},
{"data":{"name":"an_c"},"mark":{"type":"rule","strokeWidth":2.2},
"encoding":{"x":{"field":"x1","type":"quantitative","scale":{"domain":[0,200],"nice":false},"axis":null},"y":{"field":"y1","type":"quantitative","scale":{"domain":[0,0.09],"nice":false},"axis":null},"x2":{"field":"x2"},"y2":{"field":"y2"},"stroke":{"field":"s","type":"nominal","legend":null}}},
{"data":{"name":"an_c"},"mark":{"type":"point","shape":"M0,0L1,2.6L-1,2.6Z","filled":true,"size":49,"opacity":1,"strokeWidth":0},
"encoding":{"x":{"field":"x2","type":"quantitative","scale":{"domain":[0,200],"nice":false},"axis":null},"y":{"field":"y2","type":"quantitative","scale":{"domain":[0,0.09],"nice":false},"axis":null},"angle":{"field":"ang","type":"quantitative","scale":null},"fill":{"field":"s","type":"nominal","scale":{"domain":["k","b","g","o"],"range":["#000000","#0000ff","#008000","#ff7f3f"]},"legend":null}}},
{"data":{"name":"an_c"},"mark":{"type":"text","font":"Liberation Serif","fontSize":16.5,"align":"left","baseline":"middle","stroke":"white","strokeWidth":5,"fill":"white"},
"encoding":{"x":{"field":"tx","type":"quantitative","scale":{"domain":[0,200],"nice":false},"axis":null},"y":{"field":"ty","type":"quantitative","scale":{"domain":[0,0.09],"nice":false},"axis":null},"text":{"field":"t"}}},
{"data":{"name":"an_c"},"mark":{"type":"text","font":"Liberation Serif","fontSize":16.5,"align":"left","baseline":"middle"},
"encoding":{"x":{"field":"tx","type":"quantitative","scale":{"domain":[0,200],"nice":false},"axis":null},"y":{"field":"ty","type":"quantitative","scale":{"domain":[0,0.09],"nice":false},"axis":null},"text":{"field":"t"},"color":{"field":"s","type":"nominal","scale":{"domain":["k","b","g","o"],"range":["#111111","#4848e0","#239023","#f57a32"]},"legend":null}}},
{"data":{"values":[{"x":164.5,"x2":279.7,"y":0.09265,"y2":0.1049}]},"mark":{"type":"rect","fill":"#ccffff"},
"encoding":{"x":{"field":"x","type":"quantitative","scale":{"domain":[0,200],"nice":false},"axis":null},"x2":{"field":"x2"},"y":{"field":"y","type":"quantitative","scale":{"domain":[0,0.09],"nice":false},"axis":null},"y2":{"field":"y2"}}},
{"data":{"values":[{"x":222.1,"y":0.09894,"t":"placoplâtre d=12mm"}]},"mark":{"type":"text","font":"Liberation Serif","fontSize":21,"color":"#f07830","align":"center","baseline":"middle"},
"encoding":{"x":{"field":"x","type":"quantitative","scale":{"domain":[0,200],"nice":false},"axis":null},"y":{"field":"y","type":"quantitative","scale":{"domain":[0,0.09],"nice":false},"axis":null},"text":{"field":"t"}}},
{"data":{"values":[{"x":-20.9,"y":0.0715,"t":"d"}]},"mark":{"type":"text","font":"Liberation Serif","fontSize":12,"angle":270,"color":"black","align":"center","baseline":"middle"},
"encoding":{"x":{"field":"x","type":"quantitative","scale":{"domain":[0,200],"nice":false},"axis":null},"y":{"field":"y","type":"quantitative","scale":{"domain":[0,0.09],"nice":false},"axis":null},"text":{"field":"t"}}}
]
},
{
"width":344,"height":271,
"resolve":{"axis":{"x":"independent","y":"independent"}},
"layer":[
{"data":{"name":"d"},"mark":{"type":"line","strokeWidth":1,"interpolate":"monotone"},
"encoding":{
"x":{"field":"A","type":"quantitative","scale":{"domain":[0,200],"nice":false},"axis":{"orient":"bottom","values":[0,20,40,60,80,100,120,140,160,180,200],"labelPadding":10,"title":"(d)\u00a0\u00a0\u00a0\u00a0\u00a0\u00a0\u00a0angle de rotation A [degrés]","titleFontSize":18,"titleAlign":"left","titleBaseline":"middle","titleX":29,"titleY":29}},
"y":{"field":"L","type":"quantitative","scale":{"domain":[0,0.09],"nice":false},"axis":{"orient":"left","values":[0,0.01,0.02,0.03,0.04,0.05,0.06,0.07,0.08,0.09],"format":".2~f","labelPadding":7,"title":"puissance détectée P","titleFontSize":17.5,"titleAngle":270,"titleBaseline":"alphabetic","titleAlign":"center","titleX":-34,"titleY":136}},
"stroke":{"field":"s","type":"nominal","scale":{"domain":["k","b","g","o"],"range":["#000000","#0000ff","#008000","#ff7f3f"]},"legend":null}}},
{"data":{"name":"d"},"transform":[{"filter":"datum.A <= 180"}],"mark":{"type":"point","shape":"M-1,0L1,0M0,-1L0,1","filled":false,"stroke":"#ff0000","strokeWidth":1.5,"size":81,"opacity":1},
"encoding":{
"x":{"field":"A","type":"quantitative","scale":{"domain":[0,200],"nice":false},"axis":{"orient":"top","values":[0,20,40,60,80,100,120,140,160,180,200],"labels":false,"title":null}},
"y":{"field":"L","type":"quantitative","scale":{"domain":[0,0.09],"nice":false},"axis":{"orient":"right","values":[0,0.01,0.02,0.03,0.04,0.05,0.06,0.07,0.08,0.09],"labels":false,"title":null}}}},
{"data":{"name":"an_d"},"mark":{"type":"rule","strokeWidth":2.2},
"encoding":{"x":{"field":"x1","type":"quantitative","scale":{"domain":[0,200],"nice":false},"axis":null},"y":{"field":"y1","type":"quantitative","scale":{"domain":[0,0.09],"nice":false},"axis":null},"x2":{"field":"x2"},"y2":{"field":"y2"},"stroke":{"field":"s","type":"nominal","legend":null}}},
{"data":{"name":"an_d"},"mark":{"type":"point","shape":"M0,0L1,2.6L-1,2.6Z","filled":true,"size":49,"opacity":1,"strokeWidth":0},
"encoding":{"x":{"field":"x2","type":"quantitative","scale":{"domain":[0,200],"nice":false},"axis":null},"y":{"field":"y2","type":"quantitative","scale":{"domain":[0,0.09],"nice":false},"axis":null},"angle":{"field":"ang","type":"quantitative","scale":null},"fill":{"field":"s","type":"nominal","scale":{"domain":["k","b","g","o"],"range":["#000000","#0000ff","#008000","#ff7f3f"]},"legend":null}}},
{"data":{"name":"an_d"},"mark":{"type":"text","font":"Liberation Serif","fontSize":16.5,"align":"left","baseline":"middle","stroke":"white","strokeWidth":5,"fill":"white"},
"encoding":{"x":{"field":"tx","type":"quantitative","scale":{"domain":[0,200],"nice":false},"axis":null},"y":{"field":"ty","type":"quantitative","scale":{"domain":[0,0.09],"nice":false},"axis":null},"text":{"field":"t"}}},
{"data":{"name":"an_d"},"mark":{"type":"text","font":"Liberation Serif","fontSize":16.5,"align":"left","baseline":"middle"},
"encoding":{"x":{"field":"tx","type":"quantitative","scale":{"domain":[0,200],"nice":false},"axis":null},"y":{"field":"ty","type":"quantitative","scale":{"domain":[0,0.09],"nice":false},"axis":null},"text":{"field":"t"},"color":{"field":"s","type":"nominal","scale":{"domain":["k","b","g","o"],"range":["#111111","#4848e0","#239023","#f57a32"]},"legend":null}}},
{"data":{"values":[{"x":0.58,"x2":44.8,"y":0.07838,"y2":0.089}]},"mark":{"type":"rect","fill":"#ffff99"},
"encoding":{"x":{"field":"x","type":"quantitative","scale":{"domain":[0,200],"nice":false},"axis":null},"x2":{"field":"x2"},"y":{"field":"y","type":"quantitative","scale":{"domain":[0,0.09],"nice":false},"axis":null},"y2":{"field":"y2"}}},
{"data":{"values":[{"x":22.7,"y":0.08369,"t":"Θᵢ=40°"}]},"mark":{"type":"text","font":"Liberation Serif","fontSize":19,"color":"#cc2a99","align":"center","baseline":"middle"},
"encoding":{"x":{"field":"x","type":"quantitative","scale":{"domain":[0,200],"nice":false},"axis":null},"y":{"field":"y","type":"quantitative","scale":{"domain":[0,0.09],"nice":false},"axis":null},"text":{"field":"t"}}},
{"data":{"values":[{"x":-16.3,"y":0.0681,"t":"d"}]},"mark":{"type":"text","font":"Liberation Serif","fontSize":12,"angle":270,"color":"black","align":"center","baseline":"middle"},
"encoding":{"x":{"field":"x","type":"quantitative","scale":{"domain":[0,200],"nice":false},"axis":null},"y":{"field":"y","type":"quantitative","scale":{"domain":[0,0.09],"nice":false},"axis":null},"text":{"field":"t"}}}
]
}
],
"config":{
"view":{"stroke":"#000000","strokeWidth":1.5},
"axis":{"grid":false,"domain":false,"tickSize":-5,"tickColor":"#000000","tickWidth":1,"labelFlush":false,"labelOverlap":false,"labelFont":"Liberation Sans","labelFontWeight":"bold","labelFontSize":14,"labelColor":"#000000","titleFont":"Liberation Serif","titleFontWeight":"normal","titleColor":"#000000"},
"text":{"font":"Liberation Serif"}
}
}
